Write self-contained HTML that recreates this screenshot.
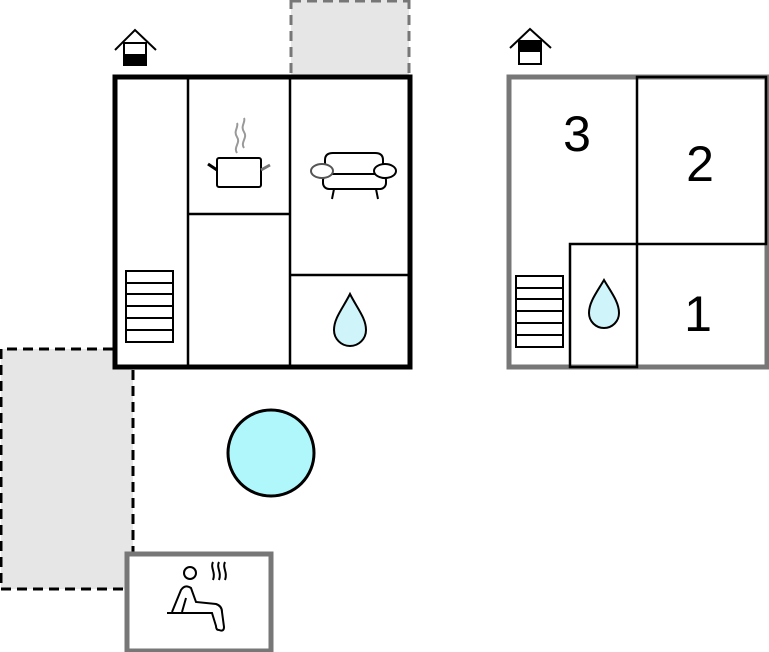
<!DOCTYPE html>
<html><head><style>body{margin:0;background:#fff}svg{display:block}</style></head><body>
<svg width="769" height="652" viewBox="0 0 769 652" xmlns="http://www.w3.org/2000/svg">
<!-- top terrace -->
<rect x="291" y="0" width="118" height="75" fill="#e6e6e6"/>
<path d="M291 73V0M409 73V0" stroke="#777" stroke-width="3" stroke-dasharray="10,6"/>
<path d="M291 1H409" stroke="#777" stroke-width="3" stroke-dasharray="10,6"/>
<!-- left terrace -->
<rect x="1" y="349" width="132" height="240" fill="#e6e6e6"/>
<path d="M113 349H1V589H126M133 370V552" fill="none" stroke="#000" stroke-width="3" stroke-dasharray="10,6"/>
<!-- left building -->
<rect x="115" y="77" width="295" height="290" fill="#fff" stroke="#000" stroke-width="5"/>
<g stroke="#000" stroke-width="2.5" fill="none">
<path d="M188 77V366M290 77V366M188 214H290M290 275H409"/>
<rect x="126" y="271" width="47" height="71" stroke-width="2"/>
<path d="M126 283H173M126 294H173M126 306H173M126 318H173M126 330H173" stroke-width="2"/>
</g>
<!-- pot -->
<g stroke="#000" stroke-width="2" fill="#fff">
<rect x="217" y="158" width="44" height="29" rx="2"/>
<path d="M217 170L208 164" stroke-width="3"/>
<path d="M261 170L270 165" stroke="#777" stroke-width="3"/>
<path d="M237 153c-4-6 4-10 0-16s2-10 0-14M244 148c-4-6 4-10 0-16s2-10 0-14" stroke="#999" fill="none"/>
</g>
<!-- sofa -->
<g stroke="#000" stroke-width="2" fill="#fff">
<path d="M325 175V160q0-7 8-7h42q8 0 8 7v15"/>
<rect x="323" y="174" width="63" height="15" rx="6"/>
<path d="M334 189l-2 10M376 189l2 10"/>
<ellipse cx="322" cy="171" rx="11" ry="7" stroke="#555"/>
<ellipse cx="385" cy="171" rx="11" ry="7"/>
</g>
<!-- drop left -->
<path d="M350 294C343 308 334 318 334 330a16 16 0 0 0 32 0C366 318 357 308 350 294Z" fill="#cff5fb" stroke="#000" stroke-width="2"/>
<!-- house icon left -->
<g stroke="#000" stroke-width="2" fill="#fff">
<path d="M115 50L135 30L156 50" fill="none"/>
<rect x="124" y="43" width="22" height="22"/>
<rect x="124" y="55" width="22" height="10" fill="#000"/>
</g>
<!-- pool -->
<circle cx="271" cy="453" r="43" fill="#aff7fb" stroke="#000" stroke-width="3"/>
<!-- sauna -->
<rect x="127" y="554" width="144" height="97" fill="#fff" stroke="#777" stroke-width="5"/>
<g stroke="#000" stroke-width="2" fill="none">
<circle cx="190" cy="573" r="6"/>
<path d="M172 612L181 590Q185 584 191 588L196 602L216 604Q222 606 222 612L224 627Q224 632 219 630Q216 630 216 626L212 613L188 613"/>
<path d="M182 612L186 598"/>
<path d="M167 613H203"/>
<path d="M213 562c-3 6 3 10 0 18M219 562c-3 6 3 10 0 18M225 562c-3 6 3 10 0 18"/>
</g>
<!-- right building -->
<rect x="509" y="77" width="258" height="290" fill="#fff" stroke="#777" stroke-width="5"/>
<g stroke="#000" stroke-width="2.5" fill="none">
<rect x="637" y="77" width="129" height="167"/>
<rect x="570" y="244" width="67" height="123"/>
<rect x="516" y="276" width="47" height="71" stroke-width="2"/>
<path d="M516 288H563M516 299H563M516 311H563M516 323H563M516 335H563" stroke-width="2"/>
</g>
<path d="M604 280C597 292 589 302 589 313a15 15 0 0 0 30 0C619 302 611 292 604 280Z" fill="#cff5fb" stroke="#000" stroke-width="2"/>
<g font-family="Liberation Sans, sans-serif" font-size="50" fill="#000" text-anchor="middle">
<text x="577" y="151">3</text>
<text x="700" y="181">2</text>
<text x="698" y="331">1</text>
</g>
<g stroke="#000" stroke-width="2" fill="#fff">
<path d="M510 48L530 29L551 48" fill="none"/>
<rect x="519" y="41" width="22" height="23"/>
<rect x="519" y="41" width="22" height="10" fill="#000"/>
</g>
</svg>
</body></html>
